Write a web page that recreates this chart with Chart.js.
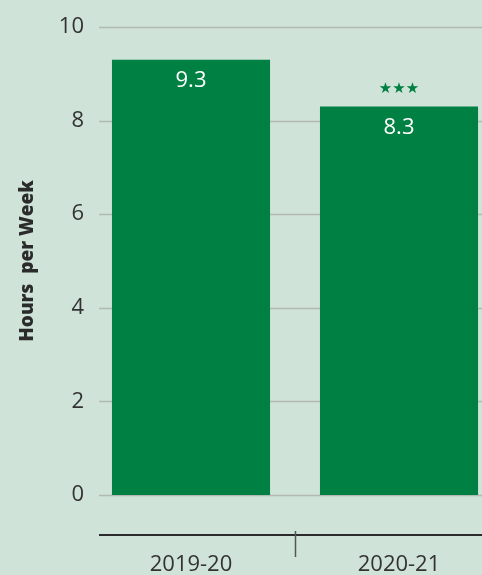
<!DOCTYPE html>
<html>
<head>
<meta charset="utf-8">
<script src="https://cdn.jsdelivr.net/npm/chart.js@4/dist/chart.umd.min.js"></script>
<style>
  html, body { margin: 0; padding: 0; background: #cfe3d8; overflow: hidden; }
  #wrap { width: 482px; height: 575px; overflow: hidden; }
  canvas { display: block; }
</style>
</head>
<body>
<div id="wrap"><canvas id="hours" width="503" height="575"></canvas></div>
<script>
// school years and average hours per week
var years = ['2019-20', '2020-21'];
var hours = [9.3, 8.3];
var sigMarks = ['', '\u2605\u2605\u2605'];
var yTicks = [0, 2, 4, 6, 8, 10];

var green = '#008043';
var textColor = '#333333';
var baseFont = "'Open Sans', sans-serif";

// horizontal guides start a little right of the plot edge
var guideLines = {
    id: 'guideLines',
    beforeDatasetsDraw: function (chart) {
        var ctx = chart.ctx, area = chart.chartArea, y = chart.scales.y;
        ctx.save();
        ctx.strokeStyle = '#b3b8b4';
        ctx.lineWidth = 1.5;
        yTicks.forEach(function (v) {
            var py = Math.round(y.getPixelForValue(v)) + 0.5;
            ctx.beginPath();
            ctx.moveTo(area.left + 12, py);
            ctx.lineTo(area.right, py);
            ctx.stroke();
        });
        ctx.restore();
    }
};

// detached baseline under the bars with a divider between years
var yearAxis = {
    id: 'yearAxis',
    afterDraw: function (chart) {
        var ctx = chart.ctx, area = chart.chartArea, x = chart.scales.x;
        var lineY = area.bottom + 40;
        ctx.save();
        ctx.strokeStyle = '#2b2b2b';
        ctx.lineWidth = 2;
        ctx.beginPath();
        ctx.moveTo(area.left + 12, lineY);
        ctx.lineTo(area.right, lineY);
        ctx.stroke();
        ctx.strokeStyle = '#555555';
        ctx.lineWidth = 1.5;
        for (var i = 0; i < years.length - 1; i++) {
            var px = Math.round(x.getPixelForValue(i + 0.5)) + 0.5;
            ctx.beginPath();
            ctx.moveTo(px, lineY - 4);
            ctx.lineTo(px, lineY + 22);
            ctx.stroke();
        }
        ctx.restore();
    }
};

// value inside each bar, significance stars above
var barLabels = {
    id: 'barLabels',
    afterDatasetsDraw: function (chart) {
        var ctx = chart.ctx;
        var bars = chart.getDatasetMeta(0).data;
        ctx.save();
        ctx.textAlign = 'center';
        ctx.textBaseline = 'middle';
        bars.forEach(function (bar, i) {
            ctx.fillStyle = '#ffffff';
            ctx.font = '22px ' + baseFont;
            ctx.fillText(hours[i].toFixed(1), bar.x, bar.y + 21);
            if (sigMarks[i]) {
                ctx.fillStyle = green;
                ctx.font = "15px 'DejaVu Sans', sans-serif";
                ctx.fillText(sigMarks[i], bar.x, bar.y - 17);
            }
        });
        ctx.restore();
    }
};

new Chart(document.getElementById('hours').getContext('2d'), {
    type: 'bar',
    data: {
        labels: years,
        datasets: [{
            data: hours,
            backgroundColor: green,
            borderWidth: 0,
            barPercentage: 0.76,
            categoryPercentage: 1.0
        }]
    },
    options: {
        responsive: false,
        animation: false,
        layout: { padding: { top: 27, right: 0, bottom: 0, left: 0 } },
        plugins: {
            legend: { display: false },
            tooltip: { enabled: false }
        },
        scales: {
            x: {
                grid: { display: false, drawTicks: false },
                border: { display: false },
                ticks: {
                    color: textColor,
                    padding: 57,
                    font: { family: baseFont, size: 22 }
                },
                afterFit: function (scale) { scale.height = 80; }
            },
            y: {
                min: 0,
                max: 10,
                grid: { display: false, drawTicks: false },
                border: { display: false },
                ticks: {
                    stepSize: 2,
                    padding: 3,
                    color: textColor,
                    font: { family: baseFont, size: 22 }
                },
                title: {
                    display: true,
                    text: 'Hours  per Week',
                    color: '#2b2b2b',
                    padding: { top: 16, bottom: 0 },
                    font: { family: baseFont, size: 19, weight: 800 }
                },
                afterFit: function (scale) { scale.width = 87; }
            }
        }
    },
    plugins: [guideLines, yearAxis, barLabels]
});
</script>
</body>
</html>
